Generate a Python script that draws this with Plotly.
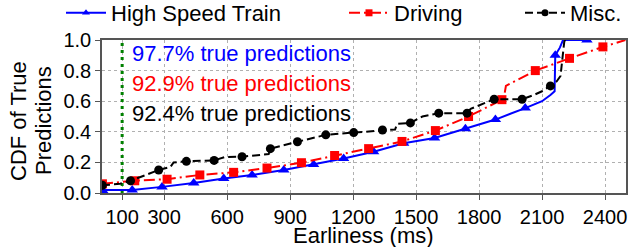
import plotly.graph_objects as go

# ---------------- data ----------------
hst_x = [4, 10, 148, 290, 441, 584, 719, 870, 1012, 1155, 1298, 1441, 1588, 1735, 1878, 2020, 2100, 2140, 2160, 2163, 2185, 2200, 2330]
hst_y = [0.02, 0.02, 0.02, 0.04, 0.065, 0.095, 0.118, 0.15, 0.187, 0.225, 0.27, 0.325, 0.36, 0.42, 0.48, 0.555, 0.60, 0.64, 0.665, 0.90, 0.95, 1.0, 1.0]
hst_mx = [8, 148, 290, 441, 584, 719, 870, 1012, 1155, 1298, 1441, 1588, 1735, 1878, 2020, 2163, 2314]
hst_my = [0.015, 0.02, 0.04, 0.065, 0.095, 0.118, 0.15, 0.187, 0.225, 0.27, 0.325, 0.36, 0.42, 0.48, 0.555, 0.90, 1.0]

drv_x = [4, 160, 314, 470, 631, 790, 954, 1112, 1274, 1433, 1592, 1750, 1909, 1918, 1928, 2068, 2231, 2390, 2497]
drv_y = [0.06, 0.08, 0.09, 0.118, 0.135, 0.163, 0.198, 0.245, 0.29, 0.337, 0.408, 0.50, 0.61, 0.62, 0.70, 0.80, 0.88, 0.955, 1.0]
drv_mx = [6, 160, 314, 470, 631, 790, 954, 1112, 1274, 1433, 1592, 1750, 1909, 2068, 2231, 2390]
drv_my = [0.06, 0.08, 0.09, 0.118, 0.135, 0.163, 0.198, 0.245, 0.29, 0.337, 0.408, 0.50, 0.61, 0.80, 0.88, 0.955]

misc_x = [4, 90, 140, 274, 330, 345, 406, 538, 590, 671, 798, 806, 935, 1070, 1203, 1340, 1400, 1410, 1473, 1530, 1608, 1743, 1760, 1872, 2005, 2060, 2100, 2140, 2170, 2188, 2195, 2206, 2211, 2225]
misc_y = [0.05, 0.06, 0.08, 0.15, 0.17, 0.20, 0.207, 0.213, 0.235, 0.237, 0.255, 0.29, 0.335, 0.38, 0.395, 0.412, 0.415, 0.452, 0.458, 0.50, 0.522, 0.522, 0.55, 0.613, 0.613, 0.64, 0.665, 0.70, 0.73, 0.765, 0.85, 0.99, 1.0, 1.0]
misc_mx = [6, 140, 274, 406, 538, 671, 806, 935, 1070, 1203, 1340, 1473, 1608, 1743, 1872, 2005, 2140]
misc_my = [0.05, 0.08, 0.15, 0.207, 0.213, 0.237, 0.29, 0.335, 0.38, 0.395, 0.412, 0.458, 0.522, 0.522, 0.613, 0.613, 0.70]

threshold_x = [100, 100]
threshold_y = [0, 1]

x_ticks = [100, 300, 600, 900, 1200, 1500, 1800, 2100, 2400]
y_ticks = [0, 0.2, 0.4, 0.6, 0.8, 1.0]

series_names = ["High Speed Train", "Driving", "Misc."]
accuracy_texts = ["97.7% true predictions", "92.9% true predictions", "92.4% true predictions"]

# ---------------- styling ----------------
FONT = "Liberation Sans, Arial, sans-serif"
colors = ["#0000ff", "#ff0000", "#000000"]
dashes = ["solid", "11px,4px,2px,4px", "8px,4px"]
symbols = ["triangle-up", "square", "circle"]
msizes = [10, 9, 9]

fig = go.Figure()

fig.add_trace(go.Scatter(x=threshold_x, y=threshold_y, mode="lines",
                         line=dict(color="#008000", width=3, dash="3px,4px"),
                         showlegend=False, hoverinfo="skip"))

lines = [(hst_x, hst_y, hst_mx, hst_my), (drv_x, drv_y, drv_mx, drv_my), (misc_x, misc_y, misc_mx, misc_my)]
for i, (lx, ly, mx, my) in enumerate(lines):
    fig.add_trace(go.Scatter(x=lx, y=ly, mode="lines",
                             line=dict(color=colors[i], width=2, dash=dashes[i]),
                             showlegend=False, cliponaxis=True))
    fig.add_trace(go.Scatter(x=mx, y=my, mode="markers",
                             marker=dict(color=colors[i], symbol=symbols[i], size=msizes[i]),
                             showlegend=False, cliponaxis=True))

legend_keys = ["legend", "legend2", "legend3"]
for i, name in enumerate(series_names):
    fig.add_trace(go.Scatter(x=[None], y=[None], mode="lines+markers", name=name,
                             line=dict(color=colors[i], width=2, dash=dashes[i]),
                             marker=dict(color=colors[i], symbol=symbols[i], size=7),
                             legend=legend_keys[i]))

W, H = 631, 247
ml, mr, mt, mb = 102, 5, 40, 54
pw, ph = W - ml - mr, H - mt - mb

def px_x(p):
    return (p - ml) / pw

def px_y(p):
    return (mt + ph - p) / ph

leg_common = dict(orientation="h", font=dict(family=FONT, size=22, color="#000000"),
                  bgcolor="rgba(0,0,0,0)", borderwidth=0, xanchor="left", yanchor="middle",
                  y=px_y(13), itemwidth=40, tracegroupgap=0)
layout_legends = {}
for key, tx in zip(legend_keys, [113, 396, 572]):
    layout_legends[key] = dict(leg_common, x=px_x(tx - 52))

axis_common = dict(showgrid=True, gridcolor="#b0b0b0", griddash="dot", gridwidth=1,
                   showline=True, mirror=True, linecolor="#555555", linewidth=1.5,
                   ticks="outside", ticklen=5, tickcolor="#555555", tickwidth=1.2,
                   tickfont=dict(family=FONT, size=20, color="#000000"), zeroline=False,
                   automargin=False)

fig.update_layout(
    width=W, height=H,
    margin=dict(l=ml, r=mr, t=mt, b=mb, autoexpand=False),
    paper_bgcolor="white", plot_bgcolor="white",
    xaxis=dict(axis_common, range=[4, 2500], tickvals=x_ticks, ticktext=[str(v) for v in x_ticks]),
    yaxis=dict(axis_common, range=[0, 1], tickvals=y_ticks, ticktext=["%.1f" % v for v in y_ticks]),
    **layout_legends,
)

annots = []
for i, t in enumerate(accuracy_texts):
    annots.append(dict(xref="paper", yref="paper", x=px_x(130), y=px_y([53, 83, 113][i]),
                       xanchor="left", yanchor="middle", text=t, showarrow=False,
                       font=dict(family=FONT, size=22, color=colors[i])))
annots.append(dict(xref="paper", yref="paper", x=px_x(18), y=px_y(121), text="CDF of True",
                   textangle=-90, showarrow=False, xanchor="center", yanchor="middle",
                   font=dict(family=FONT, size=22, color="#000000")))
annots.append(dict(xref="paper", yref="paper", x=px_x(43), y=px_y(121), text="Predictions",
                   textangle=-90, showarrow=False, xanchor="center", yanchor="middle",
                   font=dict(family=FONT, size=22, color="#000000")))
annots.append(dict(xref="paper", yref="paper", x=px_x(363), y=px_y(236), text="Earliness (ms)",
                   showarrow=False, xanchor="center", yanchor="middle",
                   font=dict(family=FONT, size=22, color="#000000")))
fig.update_layout(annotations=annots)

fig.write_html("out.html", config={"displayModeBar": False},
               post_script="document.body.style.margin='0';document.body.style.overflow='hidden';")
